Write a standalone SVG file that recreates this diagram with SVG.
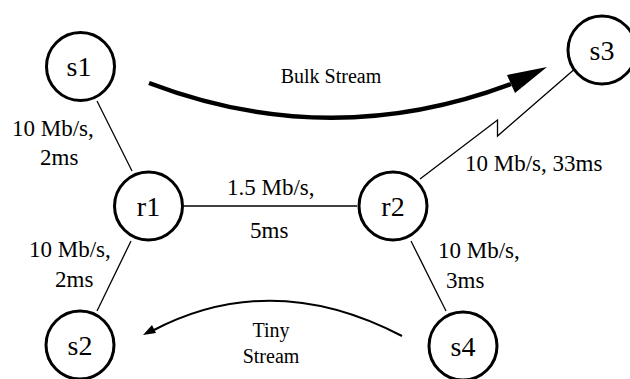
<svg xmlns="http://www.w3.org/2000/svg" width="630" height="379" viewBox="0 0 630 379">
<style>
.node{fill:#fff;stroke:#000;stroke-width:3}
.edge{fill:none;stroke:#000;stroke-width:1.3}
text{font-family:'Liberation Serif',serif;fill:#000}
</style>
<rect width="630" height="379" fill="#fff"/>
<g id="connectors">
<line class="edge" x1="97" y1="101" x2="132" y2="171"/>
<line class="edge" x1="184" y1="206" x2="357" y2="206"/>
<line class="edge" x1="131" y1="241" x2="97" y2="311"/>
<line class="edge" x1="411" y1="241" x2="446" y2="311"/>
<polyline class="edge" points="420,179 497.5,120 497.5,136 577,67"/>
<path d="M149,83 Q330,152 511,84" fill="none" stroke="#000" stroke-width="4.5"/>
<polygon points="547,67 507,75 515,93" fill="#000"/>
<path d="M402,336 Q272,268 152,331" fill="none" stroke="#000" stroke-width="2"/>
<polygon points="143,335 152,325 156,333" fill="#000"/>
</g>
<g id="labels">
<text x="12" y="136" font-size="23">10 Mb/s,</text>
<text x="40" y="165" font-size="23">2ms</text>
<text x="29" y="257" font-size="23">10 Mb/s,</text>
<text x="55" y="287" font-size="23">2ms</text>
<text x="227" y="195" font-size="23">1.5 Mb/s,</text>
<text x="250" y="238" font-size="23">5ms</text>
<text x="438" y="258" font-size="23">10 Mb/s,</text>
<text x="446" y="288" font-size="23">3ms</text>
<text x="465" y="171" font-size="23">10 Mb/s, 33ms</text>
<text x="331" y="83" font-size="20" text-anchor="middle">Bulk Stream</text>
<text x="271" y="337" font-size="20" text-anchor="middle">Tiny</text>
<text x="271" y="363" font-size="20" text-anchor="middle">Stream</text>
</g>
<g id="s1"><circle class="node" cx="80.5" cy="66.5" r="34"/><text x="79" y="76" font-size="28" text-anchor="middle">s1</text></g>
<g id="s3"><circle class="node" cx="602" cy="50" r="34"/><text x="602" y="60" font-size="28" text-anchor="middle">s3</text></g>
<g id="r1"><circle class="node" cx="148.5" cy="206" r="34"/><text x="148.5" y="216" font-size="28" text-anchor="middle">r1</text></g>
<g id="r2"><circle class="node" cx="393" cy="206" r="34"/><text x="393" y="216" font-size="28" text-anchor="middle">r2</text></g>
<g id="s2"><circle class="node" cx="80" cy="345" r="34"/><text x="80" y="355" font-size="28" text-anchor="middle">s2</text></g>
<g id="s4"><circle class="node" cx="463" cy="346" r="34"/><text x="463" y="356" font-size="28" text-anchor="middle">s4</text></g>
</svg>
